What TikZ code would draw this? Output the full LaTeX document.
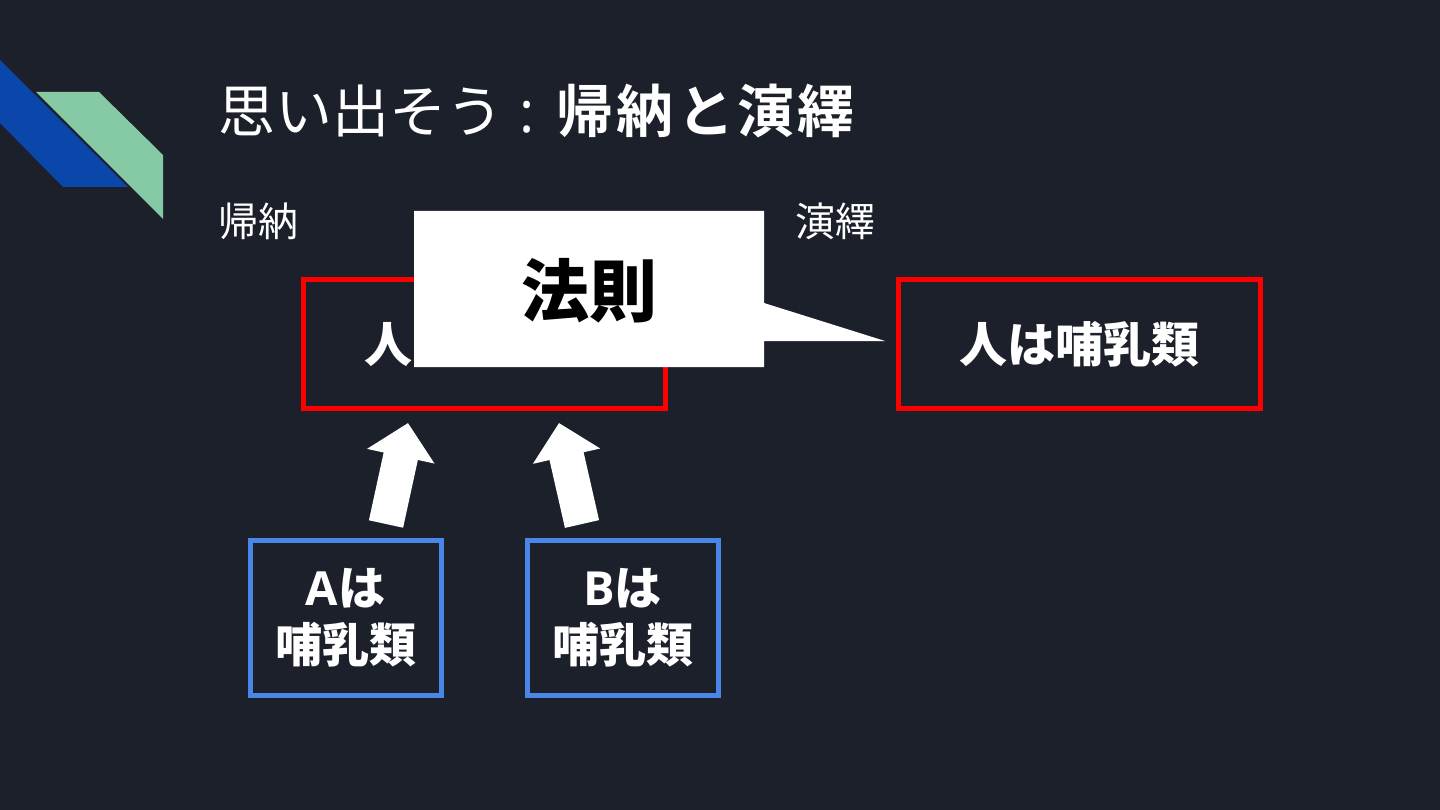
\documentclass[tikz,border=0pt]{standalone}
\usepackage{fontspec}
\setmainfont{Noto Sans CJK JP}
\newfontfamily\lat{Open Sans}
\newfontfamily\wideb[LetterSpace=6]{Noto Sans CJK JP Bold}
\usetikzlibrary{arrows.meta}
\definecolor{bg}{RGB}{28,32,43}
\definecolor{decoblue}{RGB}{11,70,170}
\definecolor{decogreen}{RGB}{133,201,165}
\definecolor{boxred}{RGB}{255,0,0}
\definecolor{boxblue}{RGB}{74,134,232}
\tikzset{
  txt/.style={text=white, inner sep=0pt},
  redbox/.style={draw=boxred, line width=5pt, minimum width=362pt, minimum height=129pt, inner sep=0pt, text=white, font=\fontsize{48}{56}\selectfont\bfseries},
  bluebox/.style={draw=boxblue, line width=5pt, minimum width=191pt, minimum height=155pt, inner sep=0pt, text=white, align=center, font=\fontsize{47}{57}\selectfont\bfseries},
  bigarrow/.style={draw=white, line width=35pt, -{Triangle[width=67pt,length=34pt]}},
}
\begin{document}
\begin{tikzpicture}[x=1pt,y=-1pt]
\fill[bg] (0,0) rectangle (1440,810);
\useasboundingbox (0,0) rectangle (1440,810);
% decoration
\fill[decoblue] (0,60) -- (128,187) -- (63,187) -- (0,123) -- cycle;
\fill[decogreen] (36,92) -- (99,92) -- (163,155) -- (163,219) -- cycle;
% title
\node[txt, anchor=west, font=\fontsize{57}{60}\selectfont] (title) at (218,111)
  {思い出そう{\lat\hspace{16pt}:\hspace{7pt}\ }{\wideb 帰納と演繹}};
\node[txt, anchor=west, font=\fontsize{40}{44}\selectfont] (lind) at (218,221) {帰納};
\node[txt, anchor=west, font=\fontsize{40}{44}\selectfont] (lded) at (795,221) {演繹};
% red boxes
\node[redbox] (rl) at (484,344) {人は哺乳類};
\node[redbox] (rr) at (1079,344) {人は哺乳類};
% callout
\fill[white] (414,211) -- (764,211) -- (764,303) -- (885,341) -- (764,341) -- (764,367) -- (414,367) -- cycle;
\node[inner sep=0pt, text=black, font=\fontsize{68}{72}\selectfont\bfseries] (law) at (589,291) {法則};
% blue boxes
\node[bluebox] (ba) at (345.5,617.5) {{\lat A}は\\哺乳類};
\node[bluebox] (bb) at (622.5,617.5) {{\lat B}は\\哺乳類};
% arrows
\coordinate (a1s) at (386,524);
\coordinate (a1e) at (408,423);
\coordinate (a2s) at (582,524);
\coordinate (a2e) at (559,423);
\draw[bigarrow] (a1s) -- (a1e);
\draw[bigarrow] (a2s) -- (a2e);
\end{tikzpicture}
\end{document}
